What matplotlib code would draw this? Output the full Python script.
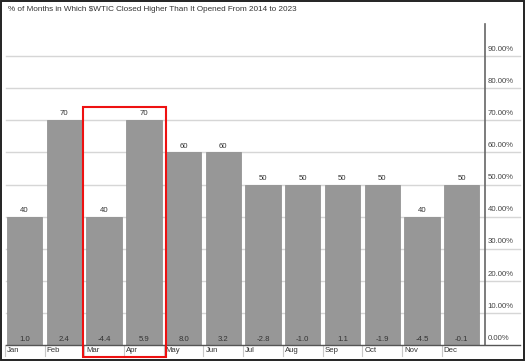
import matplotlib
matplotlib.use("Agg")
import matplotlib.pyplot as plt
import matplotlib.patches as mpatches
import matplotlib.transforms as mtrans

months = ["Jan", "Feb", "Mar", "Apr", "May", "Jun", "Jul", "Aug", "Sep", "Oct", "Nov", "Dec"]
pct_up = [40, 70, 40, 70, 60, 60, 50, 50, 50, 50, 40, 50]
avg_change = [1.0, 2.4, -4.4, 5.9, 8.0, 3.2, -2.8, -1.0, 1.1, -1.9, -4.5, -0.1]
ytick_vals = [0, 10, 20, 30, 40, 50, 60, 70, 80, 90]
title = "% of Months in Which $WTIC Closed Higher Than It Opened From 2014 to 2023"

plt.rcParams['font.family'] = ['Liberation Sans', 'DejaVu Sans']

W, H = 527, 363
fig = plt.figure(figsize=(W / 100, H / 100), dpi=100)
ax_l, ax_r, ax_b, ax_t = 6, 484.7, 345, 24
ax = fig.add_axes([ax_l / W, 1 - ax_b / H, (ax_r - ax_l) / W, (ax_b - ax_t) / H])

x = list(range(len(months)))
ax.bar(x, pct_up, width=0.89, color="#979797", edgecolor="#8a8a8a", linewidth=0.5, zorder=3)
ax.set_xlim(-0.47, 11.58)
ax.set_ylim(0, 100)

for s in ["left", "top", "bottom"]:
    ax.spines[s].set_visible(False)
ax.spines["right"].set_color("#666666")
ax.spines["right"].set_linewidth(1.2)
ax.set_xticks([])
ax.set_yticks([])

ext = (520 - ax_l) / (ax_r - ax_l)
ytrans = mtrans.blended_transform_factory(ax.transAxes, ax.transData)
for v in ytick_vals:
    if v > 0:
        ax.axhline(v, xmin=0, xmax=ext, color="#d6d6d6", linewidth=1.0, clip_on=False, zorder=1)
    ax.text(1.006, v + 1.0, f"{v:.2f}%", transform=ytrans, ha="left", va="bottom",
            fontsize=5.6, color="#444444")
ax.axhline(0, xmin=0, xmax=ext, color="#555555", linewidth=1.0, clip_on=False, zorder=4)

for i, (p, a) in enumerate(zip(pct_up, avg_change)):
    ax.text(i, p + 0.9, f"{p}", ha="center", va="bottom", fontsize=5.6, color="#333333", zorder=5)
    ax.text(i, 0.6, f"{a:.1f}", ha="center", va="bottom", fontsize=5.6, color="#333333", zorder=5)

xtrans = mtrans.blended_transform_factory(ax.transData, ax.transAxes)
sep_top = 0.0
sep_bot = -(356 - ax_b) / (ax_b - ax_t)
for i, m in enumerate(months):
    ax.plot([i - 0.5, i - 0.5], [sep_top, sep_bot], transform=xtrans, color="#c8c8c8",
            linewidth=0.8, clip_on=False)
    ax.text(i - 0.45, -(350 - ax_b) / (ax_b - ax_t), m, transform=xtrans, ha="left", va="center",
            fontsize=5.6, color="#333333")

# highlight box around Mar-Apr
px_per_unit = (ax_b - ax_t) / 100
box_bottom = -(357 - ax_b) / px_per_unit
box_top = (ax_b - 107) / px_per_unit
rect = mpatches.Rectangle((1.48, box_bottom), 3.57 - 1.48, box_top - box_bottom, fill=False,
                          edgecolor="#ee1111", linewidth=1.5, clip_on=False, zorder=6)
ax.add_patch(rect)

fig.text(8 / W, 1 - 9.5 / H, title, ha="left", va="center", fontsize=5.9, color="#333333")

frame = mpatches.Rectangle((1.2 / W, 1 - 360 / H), (524 - 1.2) / W, (360 - 0.8) / H,
                           transform=fig.transFigure, fill=False, edgecolor="#222222",
                           linewidth=1.4)
fig.patches.append(frame)

fig.savefig("out.png", dpi=100)
